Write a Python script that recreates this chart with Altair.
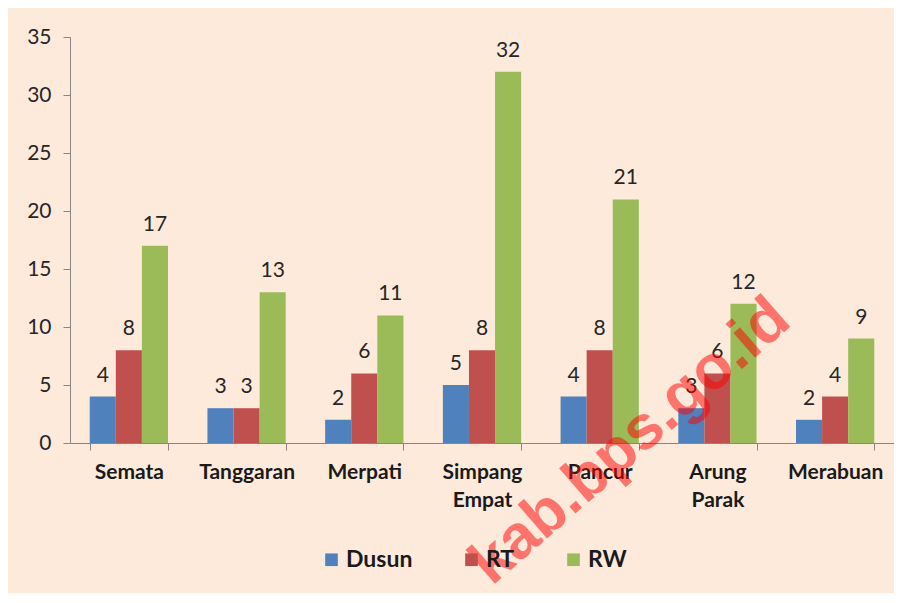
import altair as alt
import pandas as pd

categories = ["Semata", "Tanggaran", "Merpati", "Simpang Empat", "Pancur", "Arung Parak", "Merabuan"]
series = ["Dusun", "RT", "RW"]
dusun = [4, 3, 2, 5, 4, 3, 2]
rt = [8, 3, 6, 8, 8, 6, 4]
rw = [17, 13, 11, 32, 21, 12, 9]
colors = ["#4F81BD", "#C0504D", "#9BBB59"]
y_ticks = [0, 5, 10, 15, 20, 25, 30, 35]
watermark = ["kab.bps.go.id"]

rows = []
for s, vals in zip(series, [dusun, rt, rw]):
    for c, v in zip(categories, vals):
        rows.append({"kategori": c, "seri": s, "nilai": v})
df = pd.DataFrame(rows)

FONT = "Lato"
AX = "#868686"

base = alt.Chart(df).encode(
    x=alt.X(
        "kategori:N",
        sort=categories,
        scale=alt.Scale(paddingInner=0.335, paddingOuter=0.1675),
        axis=alt.Axis(
            title=None,
            labelAngle=0,
            labelExpr="split(datum.label, ' ')",
            labelFont=FONT,
            labelFontSize=21,
            labelFontWeight="bold",
            labelColor="#1a1a1a",
            labelLineHeight=28,
            labelPadding=11,
            labelLimit=300,
            tickBand="extent",
            tickSize=7,
            tickColor=AX,
            domainColor=AX,
        ),
    ),
    xOffset=alt.XOffset("seri:N", sort=series, scale=alt.Scale(paddingInner=0, paddingOuter=0)),
    y=alt.Y(
        "nilai:Q",
        scale=alt.Scale(domain=[0, 35], nice=False),
        axis=alt.Axis(
            title=None,
            values=y_ticks,
            grid=False,
            labelFont=FONT,
            labelFontSize=21,
            labelColor="#262626",
            labelPadding=12,
            tickSize=7,
            tickColor=AX,
            domainColor=AX,
        ),
    ),
)

bars = base.mark_bar(strokeWidth=0).encode(
    color=alt.Color(
        "seri:N",
        sort=series,
        scale=alt.Scale(domain=series, range=colors),
        legend=alt.Legend(
            title=None,
            orient="none",
            legendX=250,
            legendY=511,
            direction="horizontal",
            symbolType="square",
            symbolSize=160,
            symbolStrokeWidth=0,
            labelFont=FONT,
            labelFontSize=23,
            labelFontWeight="bold",
            labelColor="#1a1a1a",
            labelOffset=3,
            columnPadding=47,
            padding=0,
        ),
    )
)

labels = base.mark_text(
    dy=-15, baseline="alphabetic", fontSize=21, font=FONT, color="#262626"
).encode(text="nilai:Q")

wm = alt.Chart(pd.DataFrame({"t": watermark})).mark_text(
    angle=319,
    fontSize=62,
    fontWeight="bold",
    font="Liberation Sans",
    color="#ff0000",
    opacity=0.5,
    align="center",
    baseline="middle",
).encode(x=alt.value(560), y=alt.value(404), text="t:N")

chart = (
    alt.layer(bars, labels, wm)
    .properties(
        width=824,
        height=406,
        padding={"left": 62, "top": 29, "right": 0, "bottom": 150},
        autosize=alt.AutoSizeParams(type="none"),
        background="#FDEADA",
    )
    .configure_view(stroke=None)
)

chart.save("out.html", embed_options={"renderer": "svg", "actions": False})
